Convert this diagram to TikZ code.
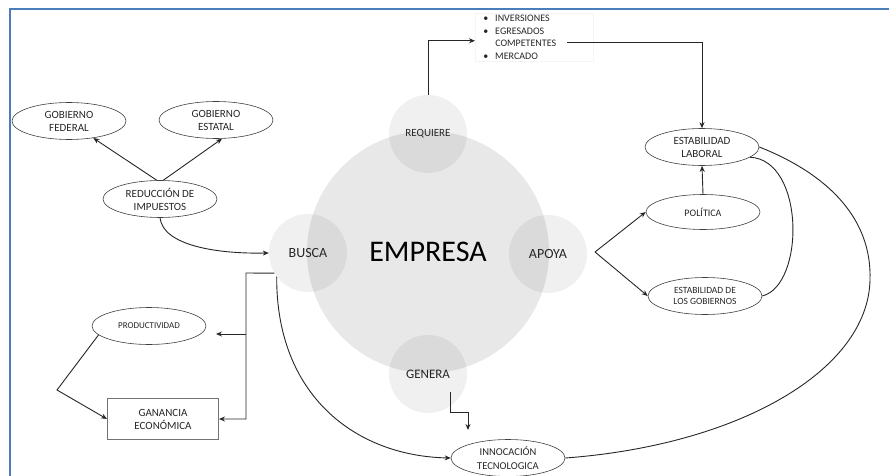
\documentclass[tikz,border=0pt]{standalone}
\usepackage{fontspec}
\setmainfont{Carlito}
\usetikzlibrary{shapes.geometric, arrows.meta}
\definecolor{marco}{HTML}{4A7EBB}

\begin{document}
\begin{tikzpicture}[x=1pt, y=-1pt,
    elipse/.style = {ellipse, draw=black!75, line width=0.6pt, minimum width=114, minimum height=37,
                     inner sep=0pt, align=center, text=black!85, font=\fontsize{11}{13}\selectfont},
    burbuja/.style = {circle, fill=black, fill opacity=0.06, text opacity=1, minimum size=78,
                      inner sep=0pt, text=black!85, font=\fontsize{14}{16}\selectfont},
    linea/.style = {line width=0.9pt, draw=black!85},
    flecha/.style = {linea, -{Stealth[length=6pt,width=5pt]}}]
      \useasboundingbox (0,0) rectangle (889,476);
      \draw[marco, line width=2pt] (10,476) -- (10,9) -- (889,9);

      % circulos centrales
      \node[circle, fill=black, fill opacity=0.09, text opacity=1, minimum size=242,
            font=\fontsize{30}{32}\selectfont] (emp) at (428,252) {EMPRESA};
      \node[burbuja, font=\fontsize{11}{13}\selectfont] (req) at (428,134) {REQUIERE};
      \node[burbuja] (busca) at (308,253) {BUSCA};
      \node[burbuja] (apoya) at (548,254) {APOYA};
      \node[burbuja, font=\fontsize{13}{15}\selectfont] (gen) at (428,374) {GENERA};

      % nodos
      \node[elipse] (fed) at (69,121) {GOBIERNO\\FEDERAL};
      \node[elipse] (est) at (216,120) {GOBIERNO\\ESTATAL};
      \node[elipse] (red) at (160,199) {REDUCCIÓN DE\\IMPUESTOS};
      \node[elipse, font=\fontsize{9}{11}\selectfont] (prod) at (149,326) {PRODUCTIVIDAD};
      \node[draw=black!55, line width=1pt, minimum width=111, minimum height=41, align=center,
            text=black!85, font=\fontsize{11}{13}\selectfont] (gan) at (163,419) {GANANCIA\\ECONÓMICA};
      \node[elipse, font=\fontsize{10.5}{14}\selectfont] (inn) at (508,458) {INNOCACIÓN\\TECNOLOGICA};
      \node[elipse] (lab) at (702,147) {ESTABILIDAD\\LABORAL};
      \node[elipse, minimum height=35, font=\fontsize{10}{12}\selectfont] (pol) at (703,212) {POLÍTICA};
      \node[elipse, font=\fontsize{9.5}{11.5}\selectfont] (gob) at (705,296) {ESTABILIDAD DE\\LOS GOBIERNOS};
      \node[draw=black!4, line width=0.5pt, anchor=north west, text width=102pt, inner xsep=8pt,
            inner ysep=2pt, align=left, text=black!85, font=\fontsize{10}{12.5}\selectfont] (lst) at (475,13)
            {\makebox[12pt][l]{\textbullet}INVERSIONES\\
             \makebox[12pt][l]{\textbullet}EGRESADOS\\
             \hspace*{12pt}COMPETENTES\\
             \makebox[12pt][l]{\textbullet}MERCADO};

      \coordinate (ap) at (595,252);
      \coordinate (b1) at (246,273);
      \coordinate (b2) at (246,334);
      \coordinate (b3) at (216,334);
      \coordinate (g1) at (450,392);
      \coordinate (g2) at (468,430);
      \coordinate (p1) at (57,390);
      \coordinate (l1) at (567,42);

      % conectores
      \draw[flecha] (red.100) -- (fed.-35);
      \draw[flecha] (red.80) -- (est.-72);
      \draw[flecha] (red.south) .. controls (163,245) and (215,254) .. (busca.west);
      \draw[flecha] (req.north) |- ([yshift=-3.5pt]lst.west);
      \draw[flecha] (l1) -| (lab.north);
      \draw[flecha] (ap) -- (pol.west);
      \draw[flecha] (ap) -- (gob.west);
      \draw[flecha] (pol.north) -- (lab.south);
      \draw[linea] (gob.east) .. controls (805,285) and (805,160) .. (lab.-12);
      \draw[linea] (lab.east) .. controls (830,175) and (872,220) .. (870,280)
            .. controls (868,370) and (740,445) .. (inn.east);
      \draw[flecha] (busca.211) -- (b1) |- (gan.east);
      \draw[flecha] (b2) -- (b3);
      \draw[flecha] (busca.217) .. controls (276,395) and (355,456) .. (inn.west);
      \draw[flecha] (prod.190) -- (p1) -- (gan.west);
      \draw[flecha] (g1) -- ++(0,20) -| (g2);
\end{tikzpicture}
\end{document}
